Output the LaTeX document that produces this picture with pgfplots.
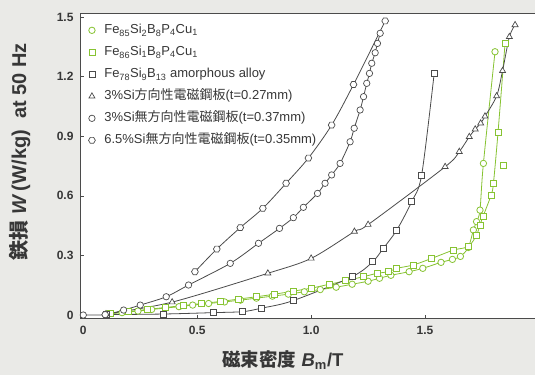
\documentclass[border=0pt]{standalone}
\usepackage{fontspec}
\setmainfont{Liberation Sans}
\newfontfamily\jp{Noto Sans CJK JP}
\usepackage{pgfplots}
\pgfplotsset{compat=1.18}
\usetikzlibrary{plotmarks}
\definecolor{bg}{RGB}{234,234,231}
\definecolor{gline}{RGB}{135,195,50}
\definecolor{kline}{RGB}{75,75,75}
\definecolor{txt}{RGB}{55,55,55}
\pgfdeclareplotmark{hexa}{%
  \pgfpathmoveto{\pgfpointpolar{0}{\pgfplotmarksize}}%
  \pgfpathlineto{\pgfpointpolar{60}{\pgfplotmarksize}}%
  \pgfpathlineto{\pgfpointpolar{120}{\pgfplotmarksize}}%
  \pgfpathlineto{\pgfpointpolar{180}{\pgfplotmarksize}}%
  \pgfpathlineto{\pgfpointpolar{240}{\pgfplotmarksize}}%
  \pgfpathlineto{\pgfpointpolar{300}{\pgfplotmarksize}}%
  \pgfpathclose\pgfusepathqfillstroke}
\begin{document}
\begin{tikzpicture}[x=1pt,y=1pt]
\fill[bg] (-81,-57) rectangle (454,318);
\begin{axis}[
  at={(0,0)}, anchor=south west, scale only axis,
  width=458pt, height=305pt,
  xmin=-0.01, xmax=2, ymin=-0.015, ymax=1.52,
  axis background/.style={fill=white},
  axis line style={draw=kline, line width=1pt},
  xtick={0,0.5,1,1.5,2}, xticklabels={0,0.5,1.0,1.5,2},
  ytick={0,0.3,0.6,0.9,1.2,1.5}, yticklabels={0,0.3,0.6,0.9,1.2,1.5},
  xtick pos=bottom, ytick pos=left, tick align=inside,
  major tick length=3pt, tick style={draw=kline, line width=0.6pt},
  tick label style={font=\fontsize{12}{12}\selectfont\bfseries, text=txt},
  xticklabel style={yshift=-5pt},
  yticklabel style={xshift=-4pt},
  xlabel={{\jp\bfseries 磁束密度} \textbf{\textit{B}\textsubscript{m}/T}},
  xlabel style={at={(axis description cs:0.441,-0.138)}, anchor=center,
    font=\fontsize{18.5}{18.5}\selectfont\bfseries, text=txt},
  ylabel={{\jp\bfseries 鉄損} \textbf{\textit{W}\,(W/kg)\ \ at 50 Hz}},
  ylabel style={at={(axis description cs:-0.134,0.545)}, anchor=center,
    font=\fontsize{20}{20}\selectfont\bfseries, text=txt},
  legend cell align=left,
  legend style={at={(axis description cs:0.008,0.975)}, anchor=north west,
    draw=none, fill=none, font=\fontsize{13}{15}\selectfont, text=txt,
    row sep=5pt, inner sep=1pt,
    nodes={text height=10pt, text depth=3pt}},
  legend image code/.code={\path (0cm,0cm) (0.55cm,0cm);\draw[#1] plot coordinates {(0.2cm,0cm)};},
  every axis plot/.append style={line width=0.8pt, smooth},
  gstyle/.style={draw=gline, mark options={draw=gline, fill=white, line width=0.8pt, solid}},
  kstyle/.style={draw=kline, mark options={draw=kline, fill=white, line width=0.7pt, solid}},
]
% Fe85Si2B8P4Cu1
\addplot[gstyle, mark=*, mark size=3.2pt] coordinates {
(0.10,0.005) (0.17,0.012) (0.24,0.020) (0.30,0.028) (0.36,0.035) (0.42,0.042)
(0.48,0.050) (0.55,0.058) (0.62,0.066) (0.69,0.075) (0.76,0.085) (0.83,0.095)
(0.90,0.105) (0.97,0.117) (1.04,0.128) (1.11,0.140) (1.18,0.155) (1.25,0.170)
(1.30,0.185) (1.35,0.200) (1.43,0.218) (1.49,0.235) (1.57,0.265) (1.62,0.280)
(1.655,0.295) (1.69,0.340) (1.712,0.428) (1.726,0.470) (1.741,0.528)
(1.756,0.763) (1.807,1.325)};
\addlegendentry{Fe\textsubscript{85}Si\textsubscript{2}B\textsubscript{8}P\textsubscript{4}Cu\textsubscript{1}}
% Fe86Si1B8P4Cu1
\addplot[gstyle, mark=square*, mark size=3pt] coordinates {
(0.12,0.008) (0.20,0.018) (0.28,0.028) (0.36,0.038) (0.44,0.048) (0.52,0.058)
(0.60,0.068) (0.68,0.080) (0.76,0.092) (0.84,0.105) (0.92,0.120) (1.00,0.135)
(1.08,0.155) (1.15,0.172) (1.23,0.193) (1.29,0.210) (1.34,0.218) (1.376,0.235)
(1.449,0.252) (1.529,0.285) (1.625,0.327) (1.69,0.345) (1.726,0.403)
(1.741,0.453) (1.754,0.495) (1.79,0.604) (1.80,0.663) (1.82,0.917) (1.851,1.367)};
\addlegendentry{Fe\textsubscript{86}Si\textsubscript{1}B\textsubscript{8}P\textsubscript{4}Cu\textsubscript{1}}
% Fe78Si9B13 amorphous
\addplot[kstyle, mark=square*, mark size=3pt] coordinates {
(0.10,0.002) (0.35,0.005) (0.57,0.012) (0.70,0.017) (0.78,0.034) (0.92,0.072)
(1.18,0.193) (1.27,0.268) (1.317,0.336) (1.376,0.428) (1.441,0.570)
(1.485,0.705) (1.54,1.216)};
\addlegendentry{Fe\textsubscript{78}Si\textsubscript{9}B\textsubscript{13} amorphous alloy}
% 3%Si grain oriented
\addplot[kstyle, mark=triangle*, mark size=3.5pt] coordinates {
(0.10,0.005) (0.39,0.065) (0.81,0.210) (1.00,0.285) (1.19,0.420) (1.25,0.455)
(1.588,0.746) (1.65,0.822) (1.694,0.897) (1.72,0.935) (1.744,0.965)
(1.763,1.000) (1.814,1.102) (1.84,1.229) (1.87,1.400) (1.895,1.460)};
\addlegendentry{3\%Si{\jp 方向性電磁鋼板}(t=0.27mm)}
% 3%Si non-oriented
\addplot[kstyle, mark=*, mark size=3.2pt] coordinates {
(0.00,0.000) (0.096,0.002) (0.177,0.025) (0.25,0.050) (0.364,0.092)
(0.462,0.151) (0.645,0.260) (0.769,0.361) (0.861,0.436) (0.922,0.490)
(0.966,0.542) (1.028,0.612) (1.061,0.663) (1.09,0.705) (1.127,0.763)
(1.171,0.872) (1.189,0.940) (1.215,1.032) (1.23,1.099) (1.244,1.166)
(1.256,1.216) (1.266,1.267) (1.281,1.320) (1.291,1.367) (1.303,1.418)};
\addlegendentry{3\%Si{\jp 無方向性電磁鋼板}(t=0.37mm)}
% 6.5%Si non-oriented
\addplot[kstyle, mark=hexa, mark size=3.4pt] coordinates {
(0.49,0.218) (0.586,0.332) (0.689,0.440) (0.788,0.537) (0.89,0.663)
(0.988,0.790) (1.09,0.956) (1.186,1.160) (1.325,1.480)};
\addlegendentry{6.5\%Si{\jp 無方向性電磁鋼板}(t=0.35mm)}
% outlier point
\addplot[gstyle, only marks, mark=square*, mark size=3pt, forget plot] coordinates {(1.843,0.755)};
\end{axis}
\pgfresetboundingbox
\path[use as bounding box] (-81,-57) rectangle (454,318);
\end{tikzpicture}
\end{document}
